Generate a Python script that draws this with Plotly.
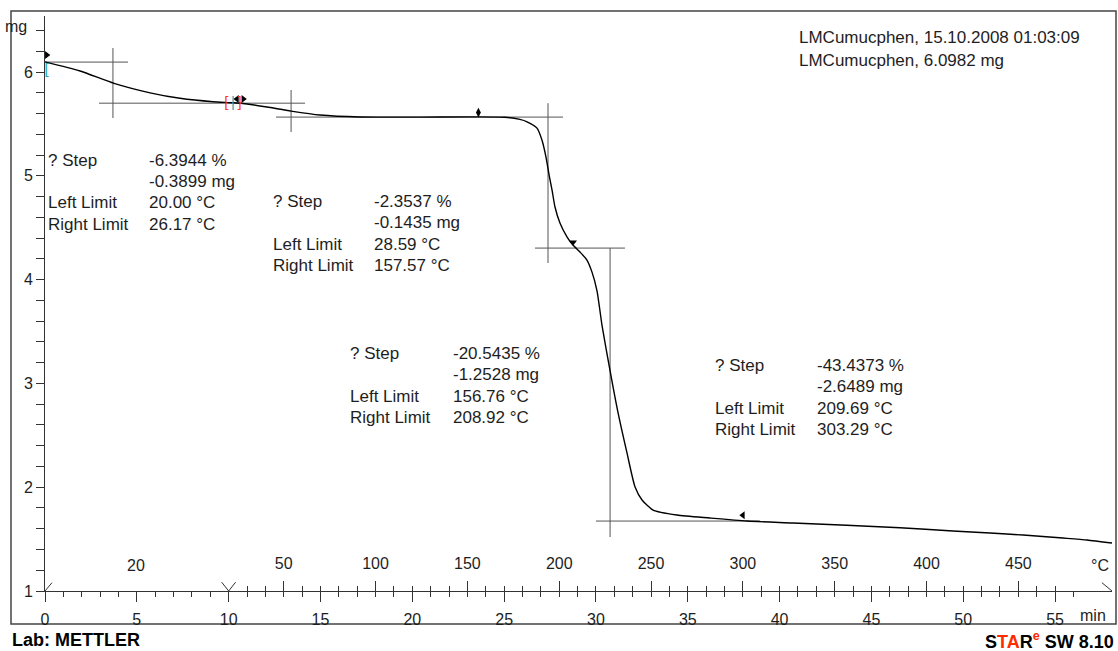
import plotly.graph_objects as go

# ---------------- data ----------------
time_min = [0.0, 1.91, 3.76, 5.72, 7.35, 9.15, 10.24, 11.0, 12.09, 13.4, 14.97, 17.15, 20.42,
            25.05, 25.86, 26.25, 26.79, 27.06, 27.28, 27.45, 27.61, 27.77, 28.04, 28.43, 28.75,
            29.13, 29.51, 29.79, 30.06, 30.33, 30.77, 31.2, 31.69, 32.13, 32.51, 33.11, 34.41,
            36.21, 38.23, 40.73, 46.56, 49.44, 51.46, 53.26, 55.43, 56.74, 58.1]
mass_mg = [6.098, 6.01, 5.891, 5.80, 5.747, 5.714, 5.704, 5.692, 5.663, 5.624, 5.586, 5.567, 5.566,
           5.565, 5.544, 5.521, 5.46, 5.345, 5.181, 5.008, 4.863, 4.70, 4.545, 4.41, 4.333,
           4.266, 4.189, 4.07, 3.89, 3.56, 3.12, 2.72, 2.33, 2.002, 1.877, 1.78, 1.732,
           1.703, 1.674, 1.655, 1.61, 1.578, 1.559, 1.539, 1.51, 1.491, 1.462]

# step evaluation tangent / crosshair segments (time in min, mass in mg)
tangent_t = [[0.0, 4.52], [3.70, 3.70], [2.94, 14.16], [13.40, 13.40], [12.58, 28.21],
             [27.39, 27.39], [26.68, 31.58], [30.77, 30.77], [30.0, 38.93]]
tangent_m = [[6.096, 6.096], [6.231, 5.557], [5.70, 5.70], [5.827, 5.422], [5.566, 5.566],
             [5.70, 4.16], [4.304, 4.304], [4.304, 1.52], [1.674, 1.674]]

# limit flags
flag_t = [0.1, 10.45, 10.8, 23.6, 28.75, 38.0]
flag_m = [6.164, 5.74, 5.74, 5.61, 4.36, 1.73]
flag_sym = ["triangle-right", "triangle-left", "triangle-right", "diamond-tall", "triangle-down", "triangle-left"]

# step results
step_pct = ["-6.3944 %", "-2.3537 %", "-20.5435 %", "-43.4373 %"]
step_mg = ["-0.3899 mg", "-0.1435 mg", "-1.2528 mg", "-2.6489 mg"]
left_lim = ["20.00 °C", "28.59 °C", "156.76 °C", "209.69 °C"]
right_lim = ["26.17 °C", "157.57 °C", "208.92 °C", "303.29 °C"]

# temperature program
iso_end_min = 10.0
start_temp = 20.0
rate_k_min = 10.0
temp_major = [50, 100, 150, 200, 250, 300, 350, 400, 450]
temp_minor = list(range(30, 480, 10))
time_major = [0, 5, 10, 15, 20, 25, 30, 35, 40, 45, 50, 55]
time_minor = list(range(0, 57))
mass_tick_values = [round(1 + 0.2 * i, 1) for i in range(0, 28)]
mass_tick_labels = [str(int(v)) if abs(v - round(v)) < 1e-9 else "" for v in mass_tick_values]

header = ["LMCumucphen, 15.10.2008 01:03:09", "LMCumucphen, 6.0982 mg"]

T_RANGE = [0, 58.1]
M_RANGE = [1, 6.54]

def temp_of(t):
    return start_temp + rate_k_min * (t - iso_end_min)

# ---------------- geometry helpers ----------------
W, H = 1118, 651
L, R, T, B = 45, 1112, 16, 591

def px(x):
    return (x - L) / (R - L)

def py(y):
    return (B - y) / (B - T)

FONT = "Liberation Sans, Arial, sans-serif"
TXT = "#1e1e1e"

fig = go.Figure()

# tangent lines
tx, tm = [], []
for a, b in zip(tangent_t, tangent_m):
    tx += a + [None]
    tm += b + [None]
fig.add_trace(go.Scatter(x=tx, y=tm, mode="lines", line=dict(color="#555555", width=1),
                         hoverinfo="skip", showlegend=False))

# main TGA curve
fig.add_trace(go.Scatter(x=time_min, y=mass_mg, mode="lines",
                         line=dict(color="#000000", width=1.4, shape="spline", smoothing=0.6),
                         showlegend=False))

# flags
fig.add_trace(go.Scatter(x=flag_t, y=flag_m, mode="markers",
                         marker=dict(symbol=flag_sym, size=7, color="#000000"),
                         showlegend=False, cliponaxis=False))

# limit brackets
fig.add_trace(go.Scatter(x=[0.08, 9.88, 10.24, 10.6, 58.15], y=[6.02, 5.70, 5.70, 5.70, 1.44],
                         mode="text", text=["[", "[", "|", "]", "]"],
                         textfont=dict(color=["#1fa8b8", "#ff3b1f", "#1fa8b8", "#ff3b1f", "#1fa8b8"],
                                       size=15, family=FONT),
                         showlegend=False, cliponaxis=False))

# segment marks on time axis and arrow head
seg_x = [0.0, 0.38, None, iso_end_min - 0.38, iso_end_min, iso_end_min + 0.38, None, 57.55, T_RANGE[1]]
seg_y = [1.0, 1.08, None, 1.085, 1.0, 1.085, None, 1.08, 1.0]
fig.add_trace(go.Scatter(x=seg_x, y=seg_y, mode="lines", line=dict(color="#333333", width=1),
                         showlegend=False, hoverinfo="skip"))

# dummy trace for temperature axis
fig.add_trace(go.Scatter(x=[temp_of(T_RANGE[0]), temp_of(T_RANGE[1])], y=[M_RANGE[0], M_RANGE[0]],
                         xaxis="x2", yaxis="y", mode="lines", line=dict(width=0),
                         showlegend=False, hoverinfo="skip"))

tickfont = dict(family=FONT, size=16, color=TXT)

fig.update_layout(
    width=W, height=H,
    margin=dict(l=L, r=W - R, t=T, b=H - B),
    paper_bgcolor="white", plot_bgcolor="white",
    font=dict(family=FONT, size=16, color=TXT),
    showlegend=False,
    xaxis=dict(range=T_RANGE, showgrid=False, zeroline=False, showline=True,
               linecolor="#333333", linewidth=1,
               tickmode="array", tickvals=time_major, ticks="outside", ticklen=10,
               tickcolor="#333333", tickfont=tickfont, ticklabelstandoff=4,
               minor=dict(tickmode="array", tickvals=time_minor, ticks="outside", ticklen=5,
                          tickcolor="#333333")),
    xaxis2=dict(range=[temp_of(T_RANGE[0]), temp_of(T_RANGE[1])], overlaying="x", anchor="free",
                position=0, side="top", showgrid=False, zeroline=False, showline=False,
                tickmode="array", tickvals=temp_major, ticks="outside", ticklen=10,
                tickcolor="#333333", tickfont=tickfont, ticklabelstandoff=6,
                minor=dict(tickmode="array", tickvals=temp_minor, ticks="outside", ticklen=5,
                           tickcolor="#333333")),
    yaxis=dict(range=M_RANGE, showgrid=False, zeroline=False, showline=True,
               linecolor="#333333", linewidth=1,
               tickmode="array", tickvals=mass_tick_values, ticktext=mass_tick_labels,
               ticks="outside", ticklen=8, tickwidth=1,
               tickcolor="#333333", tickfont=tickfont),
)

# outer frame
fig.add_shape(type="rect", xref="paper", yref="paper",
              x0=px(11), x1=px(1116), y0=py(624), y1=py(11),
              line=dict(color="#444444", width=1.5), layer="below")

ann = []

def text(x, y, s, xanchor="left", size=17, color=TXT, bold=False):
    ann.append(dict(x=px(x), y=py(y), xref="paper", yref="paper", text=s, showarrow=False,
                    xanchor=xanchor, yanchor="middle",
                    font=dict(family=FONT, size=size, color=color,
                              weight="bold" if bold else "normal")))

# step result blocks
blocks = [(46, 147, 160), (271, 372, 201), (348, 451, 353), (713, 815, 365)]
for i, (lx, vx, y0) in enumerate(blocks):
    dy = 21.5
    text(lx, y0, "? Step")
    text(vx, y0, step_pct[i])
    text(vx, y0 + dy, step_mg[i])
    text(lx, y0 + 2 * dy, "Left Limit")
    text(vx, y0 + 2 * dy, left_lim[i])
    text(lx, y0 + 3 * dy, "Right Limit")
    text(vx, y0 + 3 * dy, right_lim[i])

# header
text(797, 38, header[0], size=17)
text(797, 60, header[1], size=17)

# axis unit labels
text(29, 27, "mg", xanchor="right", size=16)
text(136, 565, "20", xanchor="center", size=16)
text(1100, 565, "°C", xanchor="center", size=16)
text(1093, 615, "min", xanchor="center", size=16)

# footer
text(10, 640, "Lab: METTLER", size=18, color="#000000", bold=True)
text(1116, 640, "S<span style='color:#ff2a00'>TA</span>R<sup><span style='color:#ff2a00'>e</span></sup> SW 8.10",
     xanchor="right", size=18, color="#000000", bold=True)

fig.update_layout(annotations=ann)

fig.write_html("out.html")
